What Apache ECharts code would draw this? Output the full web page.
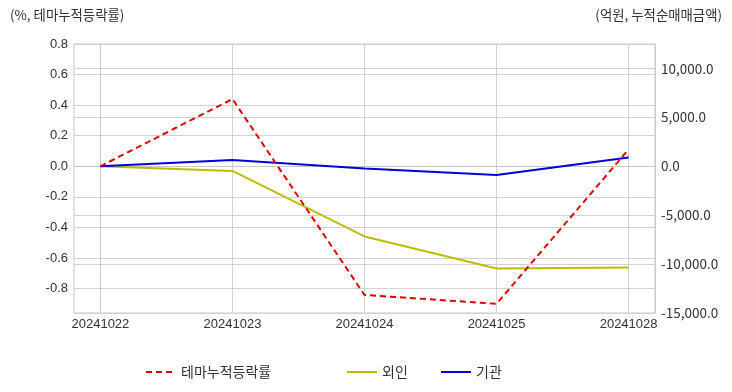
<!DOCTYPE html>
<html><head><meta charset="utf-8">
<script src="https://cdn.jsdelivr.net/npm/echarts@6/dist/echarts.min.js"></script>
<style>html,body{margin:0;padding:0;background:#fff}#c{width:732px;height:392px}</style>
</head><body><div id="c"></div>
<script>
const categories = ['20241022','20241023','20241024','20241025','20241028'];
const themeReturn = [0.0, 0.44, -0.842, -0.90, 0.11];
const foreign = [0, -480, -7170, -10450, -10350];
const institution = [0, 645, -235, -890, 890];
const leftTicks = [-0.8,-0.6,-0.4,-0.2,0,0.2,0.4,0.6,0.8];
const rightTicks = [-15000,-10000,-5000,0,5000,10000];
const FONT = '"Liberation Sans","Noto Sans CJK KR",sans-serif';
const FONT2 = '"Noto Sans CJK KR",sans-serif';
const toXY = arr => arr.map((v,i)=>[i,v]);
const xIdx = categories.map((c,i)=>i);
const chart = echarts.init(document.getElementById('c'));
const gridLine = {show:true, lineStyle:{color:'#d2d2d2', width:1}};
const legendBase = {top:360, itemWidth:30, itemHeight:12, itemStyle:{opacity:0},
  textStyle:{fontSize:14,color:'#333',fontFamily:FONT2}};
chart.setOption({
  animation:false,
  textStyle:{fontFamily:FONT},
  graphic:[
    {type:'text', left:10, top:8, style:{text:'(%, 테마누적등락률)', font:'13.4px '+FONT2, fill:'#333'}},
    {type:'text', right:10, top:8, style:{text:'(억원, 누적순매매금액)', font:'13.4px '+FONT2, fill:'#333'}}
  ],
  grid:{left:74, right:77, top:44, bottom:79, show:true, borderColor:'#c8c8c8', borderWidth:1},
  legend:[
    Object.assign({left:140, data:['테마누적등락률']}, legendBase),
    Object.assign({left:341, data:['외인']}, legendBase),
    Object.assign({left:435, data:['기관']}, legendBase)
  ],
  xAxis:{type:'value', min:-0.2, max:4.2,
    axisLine:{show:true, lineStyle:{color:'#c8c8c8'}},
    axisTick:{show:false, customValues:xIdx},
    axisLabel:{customValues:xIdx, margin:5, fontSize:13, color:'#333', fontFamily:FONT, formatter:v=>categories[Math.round(v)]||''},
    splitLine:gridLine},
  yAxis:[
    {type:'value', min:-0.96, max:0.8, position:'left',
      axisLine:{show:true, lineStyle:{color:'#c8c8c8'}},
      axisTick:{show:false, customValues:leftTicks},
      axisLabel:{customValues:leftTicks, margin:6, fontSize:13, color:'#333', fontFamily:FONT, formatter:v=>v.toFixed(1)},
      splitLine:gridLine},
    {type:'value', min:-15000, max:12500, position:'right',
      axisLine:{show:true, lineStyle:{color:'#c8c8c8'}},
      axisTick:{show:false, customValues:rightTicks},
      axisLabel:{customValues:rightTicks, margin:6, fontSize:13.5, color:'#333', fontFamily:FONT2,
        formatter:v=>v.toLocaleString('en-US',{minimumFractionDigits:1,maximumFractionDigits:1})},
      splitLine:gridLine}
  ],
  series:[
    {name:'테마누적등락률', type:'line', yAxisIndex:0, data:toXY(themeReturn), symbol:'none',
      lineStyle:{color:'#e00000', width:2, type:[6,4]}, itemStyle:{color:'#e00000'}, z:3},
    {name:'외인', type:'line', yAxisIndex:1, data:toXY(foreign), symbol:'none',
      lineStyle:{color:'#bdbd00', width:2}, itemStyle:{color:'#bdbd00'}, z:2},
    {name:'기관', type:'line', yAxisIndex:1, data:toXY(institution), symbol:'none',
      lineStyle:{color:'#0000d8', width:2}, itemStyle:{color:'#0000d8'}, z:2}
  ]
});
</script></body></html>
